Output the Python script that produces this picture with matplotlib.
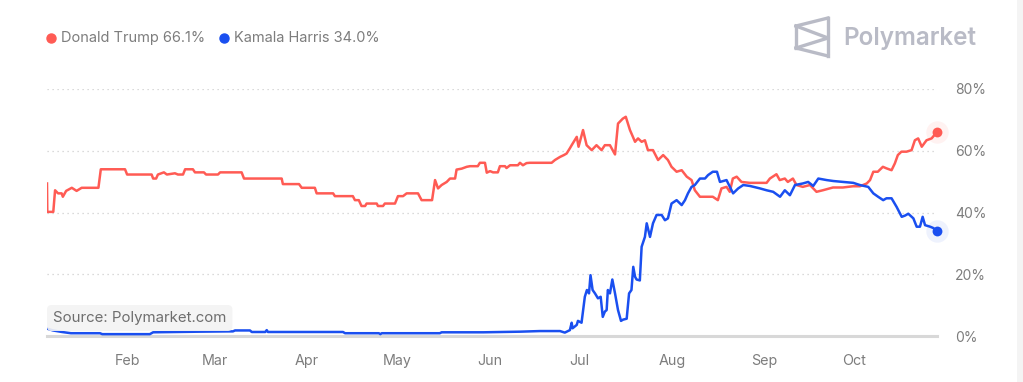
import numpy as np
import pandas as pd
import matplotlib
matplotlib.use("Agg")
import matplotlib.pyplot as plt
import matplotlib.dates as mdates
from matplotlib.lines import Line2D

plt.rcParams['font.family'] = ['Inter', 'DejaVu Sans']

# days counted from 2024-01-01, values in percent
trump_days = [4.0, 4.1, 6.1, 6.7, 7.7, 8.9, 9.3, 10.4, 12.3, 13.9, 15.6, 21.2, 22.0, 30.1, 30.8,
              39.0, 39.5, 40.5, 41.1, 43.1, 44.1, 46.8, 47.8, 49.5, 50.2, 52.8, 53.5, 56.5, 57.2,
              61.2, 61.9, 69.1, 69.9, 82.5, 82.9, 88.3, 89.2, 93.6, 94.2, 99.7, 100.3, 106.3,
              107.0, 108.3, 109.2, 110.4, 110.9, 114.3, 114.7, 116.4, 117.0, 120.4, 121.4, 123.1,
              124.3, 128.1, 129.3, 132.8, 133.8, 134.8, 136.0, 137.7, 138.8, 140.5, 141.0, 142.7,
              144.4, 145.5, 148.1, 148.8, 150.5, 151.1, 152.2, 153.2, 154.8, 155.5, 157.2, 157.7,
              158.9, 161.5, 162.2, 163.2, 164.4, 165.5, 172.8, 173.9, 175.6, 176.9, 177.8, 178.9,
              179.5, 181.2, 181.8, 183.3, 184.5, 186.2, 187.8, 189.5, 190.6, 192.3, 194.0, 195.0,
              196.6, 197.6, 199.0, 200.7, 201.7, 202.9, 204.0, 205.0, 206.7, 208.4, 210.1, 211.7,
              212.9, 214.6, 216.3, 218.0, 219.6, 220.7, 222.4, 226.7, 228.4, 229.6, 231.3, 232.4,
              233.4, 234.7, 236.3, 239.1, 244.7, 245.8, 248.0, 249.1, 250.8, 251.8, 253.5, 254.7,
              256.8, 259.2, 261.4, 263.5, 266.9, 270.2, 273.6, 275.9, 278.2, 279.3, 280.4, 281.9,
              283.6, 284.8, 286.5, 287.6, 288.6, 289.8, 291.5, 293.2, 294.3, 295.4, 296.6, 298.2,
              299.9, 301.7]
trump_vals = [49.4, 40.2, 40.2, 47.2, 46.2, 46.2, 45.1, 47.0, 48.0, 47.0, 48.0, 48.0, 54.0, 54.0, 52.3,
              52.3, 51.0, 51.0, 52.3, 53.0, 52.3, 52.7, 52.3, 52.3, 54.0, 54.0, 53.0, 53.0, 52.3,
              52.3, 53.0, 53.0, 51.0, 51.0, 49.2, 49.2, 48.0, 48.0, 46.2, 46.2, 45.3, 45.3,
              44.0, 44.0, 42.1, 42.1, 42.9, 42.9, 42.1, 42.1, 42.9, 42.9, 45.3, 45.3,
              46.2, 46.2, 44.0, 44.0, 50.5, 47.8, 48.9, 49.9, 51.0, 51.0, 53.9, 54.2,
              54.8, 55.0, 55.0, 56.1, 56.1, 52.9, 53.4, 53.0, 53.0, 55.0, 55.0, 54.4,
              55.3, 55.3, 56.1, 55.3, 56.0, 56.1, 56.1, 57.0, 58.0, 58.6, 59.1, 60.8,
              61.8, 64.5, 61.3, 66.7, 61.8, 60.2, 61.8, 60.2, 61.8, 61.8, 58.8, 68.8,
              70.4, 71.0, 66.7, 62.9, 64.0, 62.9, 63.4, 60.2, 60.2, 57.0, 58.6, 57.0,
              54.8, 53.2, 53.7, 51.6, 50.5, 47.2, 45.1, 45.1, 44.0, 47.8, 48.3, 46.7,
              51.0, 51.6, 49.9, 49.6, 49.6, 51.0, 52.4, 50.5, 51.0, 49.9, 51.0, 48.9,
              48.3, 48.9, 46.7, 47.2, 48.1, 48.1, 48.5, 48.5, 49.4, 50.5, 53.2, 53.2,
              54.8, 54.3, 53.7, 55.9, 58.6, 59.7, 59.7, 60.2, 63.4, 64.0, 61.3, 63.4,
              64.0, 66.1]

harris_days = [4.0, 6.0, 9.0, 12.0, 21.7, 22.5, 38.4, 39.5, 55.0, 66.2, 66.9, 71.9, 72.5, 77.0,
               77.5, 77.9, 103.0, 103.7, 115.0, 115.5, 116.0, 135.4, 136.0, 150.0, 162.2, 168.9,
               175.6, 177.2, 178.9, 179.5, 179.8, 181.2, 181.6, 182.8, 183.9, 184.6, 185.3, 185.8,
               186.5, 187.3, 188.3, 189.2, 189.9, 190.6, 191.2, 191.6, 192.3, 193.1, 194.0, 195.0,
               196.0, 196.7, 197.9, 198.7, 199.5, 200.1, 200.7, 201.2, 202.3, 202.9, 204.0, 204.6,
               205.7, 206.7, 207.9, 209.6, 210.7, 211.7, 212.9, 214.6, 216.3, 217.4, 218.4, 219.6,
               220.7, 222.4, 224.1, 225.1, 226.7, 228.1, 229.1, 231.3, 233.5, 235.2, 236.9, 239.1,
               242.5, 244.7, 246.9, 249.2, 250.8, 252.5, 254.2, 256.8, 258.6, 260.3, 262.0, 264.8,
               267.0, 270.3, 273.7, 275.9, 278.7, 280.4, 282.0, 283.7, 284.8, 286.5, 288.2, 289.9,
               291.0, 292.1, 293.8, 294.9, 296.0, 296.9, 297.7, 299.4, 300.4, 301.7]
harris_vals = [2.4, 1.8, 1.3, 0.9, 0.9, 0.6, 0.6, 1.2, 1.4, 1.5, 1.8, 1.8, 1.3, 1.3,
               1.9, 1.3, 1.3, 0.9, 0.9, 0.6, 0.9, 0.9, 1.2, 1.2, 1.4, 1.6,
               1.6, 1.1, 1.9, 4.3, 2.5, 3.6, 4.9, 4.3, 12.7, 14.9, 13.8, 19.7,
               14.9, 13.8, 12.2, 12.7, 6.2, 7.9, 8.4, 14.9, 13.8, 18.3, 13.8, 8.4,
               4.9, 5.3, 5.6, 13.8, 14.9, 22.4, 19.2, 18.3, 18.0, 28.9, 32.1, 36.5,
               32.1, 36.5, 39.2, 39.2, 37.5, 38.1, 42.9, 44.0, 42.4, 44.0, 46.2, 48.3,
               48.9, 51.0, 51.0, 52.1, 53.2, 53.2, 49.9, 50.5, 46.2, 47.8, 48.9, 48.6,
               47.8, 47.2, 46.7, 45.1, 47.2, 45.6, 48.9, 49.4, 49.9, 48.6, 51.0, 50.5,
               50.2, 49.9, 49.6, 48.9, 48.3, 46.2, 45.1, 44.0, 44.6, 44.6, 41.8, 38.6,
               39.0, 39.6, 38.1, 35.4, 35.4, 38.6, 35.9, 35.4, 35.0, 34.0]

y_ticks = [0, 20, 40, 60, 80]
trump_label = "Donald Trump 66.1%"
harris_label = "Kamala Harris 34.0%"

start = pd.Timestamp("2024-01-01")
t_dates = start + pd.to_timedelta(trump_days, unit="D")
h_dates = start + pd.to_timedelta(harris_days, unit="D")

RED = "#ff5b54"
BLUE = "#1a4ff0"
GREY = "#7d7d7d"

fig = plt.figure(figsize=(10.23, 3.82), dpi=100)
ax = fig.add_axes([47/1023, 1-336/382, 890/1023, (336-89)/382])

ax.plot(t_dates, trump_vals, color=RED, lw=1.8, solid_joinstyle="round", zorder=3)
ax.plot(h_dates, harris_vals, color=BLUE, lw=1.8, solid_joinstyle="round", zorder=3)

# end markers with halo
ax.scatter([t_dates[-1]], [trump_vals[-1]], s=260, color=RED, alpha=0.08, lw=0, zorder=4, clip_on=False)
ax.scatter([t_dates[-1]], [trump_vals[-1]], s=50, color=RED, lw=0, zorder=5, clip_on=False)
ax.scatter([h_dates[-1]], [harris_vals[-1]], s=260, color=BLUE, alpha=0.07, lw=0, zorder=4, clip_on=False)
ax.scatter([h_dates[-1]], [harris_vals[-1]], s=50, color=BLUE, lw=0, zorder=5, clip_on=False)

ax.set_xlim(t_dates[0], t_dates[-1])
ax.set_ylim(0, 80)

for v in y_ticks[1:]:
    ax.axhline(v, color="#cfcfcf", lw=0.9, ls=(0, (1, 3)), zorder=1)
ax.axhline(0, color="#d8d8d8", lw=2.2, zorder=2, clip_on=False)

for s in ax.spines.values():
    s.set_visible(False)

ax.yaxis.tick_right()
ax.set_yticks(y_ticks)
ax.set_yticklabels([f"{v}%" for v in y_ticks])
ax.tick_params(axis="y", length=0, pad=13, labelsize=10, labelcolor=GREY)

ax.xaxis.set_major_locator(mdates.MonthLocator(bymonth=range(2, 11)))
ax.xaxis.set_major_formatter(mdates.DateFormatter("%b"))
ax.tick_params(axis="x", length=0, pad=13, labelsize=10.3, labelcolor=GREY)

# legend row
fig.add_artist(Line2D([51/1023], [1-38/382], marker="o", ms=6.5, color=RED, lw=0, transform=fig.transFigure))
fig.text(61/1023, 1-38/382, trump_label, color=GREY, fontsize=10.5, va="center", ha="left")
fig.add_artist(Line2D([224/1023], [1-38/382], marker="o", ms=6.5, color=BLUE, lw=0, transform=fig.transFigure))
fig.text(234/1023, 1-38/382, harris_label, color=GREY, fontsize=10.5, va="center", ha="left")

# Polymarket logo
logo_c = "#b9bbc6"
pts = {"A": (796, 26), "B": (828, 18), "C": (828, 38), "D": (796, 48), "E": (828, 56)}
for a, b in [("A", "B"), ("B", "E"), ("A", "D"), ("A", "C"), ("C", "D"), ("D", "E")]:
    (x0, y0), (x1, y1) = pts[a], pts[b]
    fig.add_artist(Line2D([x0/1023, x1/1023], [1-y0/382, 1-y1/382], color=logo_c, lw=2.4,
                          solid_capstyle="projecting", transform=fig.transFigure))
fig.text(843/1023, 1-38/382, "Polymarket", color=logo_c, fontsize=17.5, fontweight="semibold",
         va="center", ha="left")

# source box
fig.text(53/1023, 1-318/382, "Source: Polymarket.com", color="#6e6e6e", fontsize=10.8,
         va="center", ha="left", zorder=10,
         bbox=dict(boxstyle="round,pad=0.4,rounding_size=0.3", fc="#f3f3f3", ec="none", alpha=0.9))

# scrollbar strip at right
fig.add_artist(plt.Rectangle((1017/1023, 0), 6/1023, 1, color="#f4f4f4", transform=fig.transFigure, lw=0))

fig.savefig("out.png", dpi=100)
